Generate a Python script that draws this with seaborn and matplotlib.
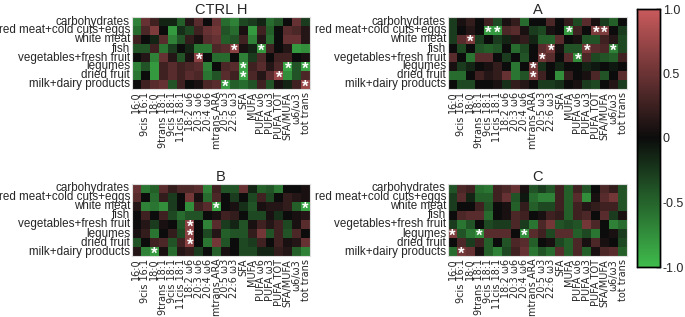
import numpy as np
import pandas as pd
import matplotlib
matplotlib.use("Agg")
import matplotlib.pyplot as plt
import seaborn as sns
from matplotlib.colors import LinearSegmentedColormap

foods = ["carbohydrates", "red meat+cold cuts+eggs", "white meat", "fish",
         "vegetables+fresh fruit", "legumes", "dried fruit", "milk+dairy products"]
fatty_acids = ["16:0", "9cis 16:1", "18:0", "9trans 18:1", "9cis 18:1", "11cis 18:1",
               "18:2 ω6", "20:3 ω6", "20:4 ω6", "mtrans ARA", "20:5 ω3", "22:6 ω3",
               "SFA", "MUFA", "PUFA ω6", "PUFA ω3", "PUFA TOT", "SFA/MUFA", "ω6/ω3", "tot trans"]
panel_titles = ["CTRL H", "A", "B", "C"]

ctrl_h = [
    [-0.67, 0.47, 0.27, -0.13, -0.13, -0.47, 0.13, 0.4, 0.0, 0.47, -0.54, -0.67, -0.34, -0.27, -0.13, -0.54, -0.4, 0.0, 0.47, -0.27],
    [-0.54, 0.34, 0.6, 0.0, -0.8, -0.2, -0.34, 0.27, 0.47, 0.54, -0.4, -0.54, 0.07, -0.8, 0.27, -0.47, 0.0, 0.4, 0.34, 0.13],
    [0.27, 0.0, -0.13, 0.4, -0.67, -0.4, 0.2, 0.07, 0.4, 0.47, -0.47, -0.4, 0.27, -0.67, 0.13, -0.54, 0.0, 0.47, 0.47, 0.13],
    [-0.4, -0.4, 0.27, -0.6, -0.27, 0.0, -0.13, -0.6, -0.6, 0.34, 0.4, 0.67, 0.07, -0.13, -0.8, 0.27, 0.0, 0.13, -0.8, -0.74],
    [0.0, 0.13, -0.67, 0.47, 0.13, -0.4, 0.07, 0.67, 0.0, -0.54, -0.54, 0.0, -0.67, -0.27, 0.34, 0.0, 0.27, 0.27, 0.0, 0.07],
    [-0.67, -0.4, -0.8, 0.27, 0.4, 0.27, 0.34, 0.4, -0.67, 0.0, 0.34, 0.4, -0.86, 0.27, 0.4, 0.13, 0.34, -0.86, -0.4, -0.86],
    [-0.6, 0.0, -0.8, 0.27, 0.4, 0.27, 0.4, 0.34, -0.6, -0.4, 0.4, 0.27, -0.86, 0.34, 0.13, 0.4, 0.74, -0.74, -0.4, 0.34],
    [0.0, 0.27, 0.4, 0.47, -0.4, 0.27, 0.0, 0.07, 0.34, 0.4, -0.8, -0.47, -0.54, -0.4, 0.27, -0.4, 0.07, -0.13, 0.27, 0.74],
]
group_a = [
    [-0.27, 0.07, 0.2, 0.0, 0.27, -0.34, 0.07, 0.2, -0.54, 0.0, 0.0, 0.34, 0.0, 0.2, -0.34, 0.4, 0.07, -0.27, -0.47, 0.0],
    [-0.27, 0.0, 0.13, 0.0, -0.8, -0.8, 0.34, 0.4, 0.07, -0.27, -0.34, 0.07, 0.0, -0.8, 0.27, 0.0, 0.6, 0.6, 0.0, -0.27],
    [-0.27, 0.4, 0.6, -0.27, 0.0, -0.27, -0.13, 0.13, 0.2, -0.13, -0.47, -0.47, 0.4, 0.0, 0.07, -0.4, -0.4, 0.27, 0.13, -0.34],
    [0.0, -0.34, 0.0, -0.4, -0.47, -0.4, 0.0, -0.54, -0.34, 0.0, 0.4, 0.54, 0.07, -0.4, -0.4, 0.54, 0.4, 0.34, -0.67, -0.34],
    [0.4, 0.0, -0.6, 0.4, 0.4, 0.0, -0.27, 0.0, -0.4, 0.0, 0.54, 0.4, 0.0, 0.4, -0.74, 0.34, -0.34, -0.4, -0.47, 0.27],
    [0.07, -0.27, -0.13, 0.0, 0.07, 0.2, 0.0, -0.6, 0.0, 0.54, -0.2, 0.0, -0.13, 0.0, 0.0, -0.13, -0.07, 0.0, -0.07, 0.0],
    [-0.54, -0.54, 0.0, 0.27, 0.13, 0.2, 0.47, -0.6, -0.4, 0.6, 0.27, 0.0, -0.74, 0.2, 0.0, 0.07, 0.34, -0.4, 0.0, 0.4],
    [0.0, -0.34, -0.34, 0.0, 0.0, 0.07, -0.2, 0.2, 0.13, 0.0, -0.27, -0.27, -0.2, 0.0, 0.07, -0.27, -0.34, 0.0, 0.13, -0.27],
]
group_b = [
    [0.47, -0.6, -0.47, 0.4, 0.2, 0.34, 0.34, 0.4, -0.67, 0.27, -0.4, -0.4, 0.47, -0.13, -0.47, -0.4, -0.6, 0.0, 0.0, 0.07],
    [0.4, 0.0, -0.54, 0.2, -0.27, 0.0, 0.54, 0.07, -0.54, 0.34, 0.0, -0.27, 0.0, -0.34, 0.27, -0.34, 0.0, 0.2, 0.13, 0.07],
    [0.13, -0.67, -0.6, -0.74, -0.27, 0.0, -0.74, 0.27, 0.4, -0.86, 0.0, 0.07, -0.2, -0.4, 0.07, 0.13, 0.13, 0.2, -0.47, -0.86],
    [0.0, 0.27, 0.0, 0.27, -0.34, -0.54, -0.4, -0.4, 0.0, 0.07, 0.27, 0.2, 0.0, -0.34, -0.34, 0.07, -0.2, 0.0, 0.07, 0.13],
    [0.0, 0.13, -0.27, 0.07, 0.0, -0.4, 0.67, 0.0, -0.67, 0.4, -0.27, -0.13, -0.4, 0.07, 0.27, 0.13, 0.27, -0.34, 0.07, 0.4],
    [0.07, 0.2, -0.6, 0.0, 0.2, -0.34, 0.67, 0.0, -0.34, 0.13, -0.47, -0.4, -0.4, 0.2, 0.54, -0.4, 0.27, -0.4, 0.34, 0.0],
    [-0.4, 0.0, 0.27, 0.34, -0.4, 0.27, 0.67, 0.0, -0.6, 0.54, -0.4, 0.0, -0.34, -0.27, 0.27, 0.0, 0.27, 0.07, 0.13, 0.47],
    [0.13, -0.67, -0.8, 0.07, -0.54, 0.13, 0.2, -0.27, 0.0, -0.47, 0.07, 0.0, -0.34, -0.34, -0.13, -0.13, 0.2, 0.13, -0.47, -0.67],
]
group_c = [
    [-0.4, 0.34, 0.27, -0.54, -0.6, 0.27, 0.34, 0.47, 0.07, -0.4, -0.27, -0.4, 0.27, -0.47, 0.27, -0.4, 0.0, 0.34, 0.2, -0.4],
    [-0.27, 0.4, -0.13, -0.47, -0.47, 0.27, 0.47, -0.4, -0.07, -0.54, -0.67, -0.67, 0.27, -0.47, 0.4, -0.74, 0.07, 0.4, 0.54, -0.4],
    [-0.27, 0.0, 0.0, 0.27, -0.4, 0.0, 0.07, -0.47, 0.2, -0.47, -0.34, -0.34, 0.27, -0.47, 0.27, 0.13, 0.2, 0.27, 0.27, -0.4],
    [0.0, 0.34, 0.4, 0.4, -0.54, 0.0, 0.07, 0.34, 0.27, 0.0, 0.07, 0.27, 0.2, -0.47, 0.27, 0.34, 0.0, 0.4, -0.27, 0.07],
    [-0.27, -0.6, -0.4, 0.0, -0.34, -0.27, -0.27, 0.34, -0.27, -0.6, 0.34, 0.54, -0.4, -0.34, -0.4, 0.54, 0.34, 0.0, -0.67, -0.54],
    [0.6, -0.4, -0.6, -0.74, 0.4, 0.4, 0.4, 0.0, -0.74, 0.4, 0.27, -0.34, 0.4, 0.4, -0.47, -0.34, -0.6, 0.0, 0.07, -0.27],
    [0.0, 0.34, -0.27, 0.27, -0.47, 0.0, -0.4, 0.34, 0.4, -0.47, 0.0, 0.07, -0.34, -0.47, 0.34, 0.07, 0.34, 0.07, 0.0, -0.34],
    [-0.54, 0.54, 0.47, 0.07, -0.47, -0.67, -0.34, 0.27, 0.47, -0.6, -0.4, -0.54, 0.4, -0.47, 0.34, -0.47, 0.07, 0.34, 0.4, -0.47],
]

# significant cells (row index, column index)
sig_ctrl_h = [(3, 11), (3, 14), (4, 7), (5, 12), (5, 17), (5, 19), (6, 12), (6, 16), (7, 10), (7, 19)]
sig_a = [(1, 4), (1, 5), (1, 13), (1, 16), (1, 17), (2, 2), (3, 11), (3, 15), (3, 18),
         (4, 10), (4, 14), (5, 9), (6, 9)]
sig_b = [(2, 9), (2, 19), (4, 6), (5, 6), (6, 6), (7, 2)]
sig_c = [(5, 0), (5, 3), (5, 8), (7, 1)]

colorbar_ticks = [-1.0, -0.5, 0.0, 0.5, 1.0]
colorbar_ticklabels = ["-1.0", "-0.5", "0", "0.5", "1.0"]

cmap = LinearSegmentedColormap.from_list(
    "gkr", [(0.0, "#3fbb4c"), (0.5, "#0c0c0c"), (1.0, "#c95a5c")])

sns.set_theme(style="white")
plt.rcParams["font.family"] = ["Liberation Sans", "DejaVu Sans"]

W, H = 685, 317
fig = plt.figure(figsize=(W / 100, H / 100), dpi=100)


def fr(x0, y0, x1, y1):
    return [x0 / W, 1 - y1 / H, (x1 - x0) / W, (y1 - y0) / H]


rects = [fr(132, 17, 310, 89), fr(448, 17, 627, 89), fr(132, 184, 310, 256), fr(448, 184, 627, 256)]
cax = fig.add_axes(fr(637, 9, 660, 267))

datasets = [ctrl_h, group_a, group_b, group_c]
sigs = [sig_ctrl_h, sig_a, sig_b, sig_c]

for k, (rect, data, sig, title) in enumerate(zip(rects, datasets, sigs, panel_titles)):
    ax = fig.add_axes(rect)
    df = pd.DataFrame(data, index=foods, columns=fatty_acids)
    sns.heatmap(df, ax=ax, cmap=cmap, vmin=-1, vmax=1, cbar=(k == 0),
                cbar_ax=cax if k == 0 else None, linewidths=0,
                xticklabels=True, yticklabels=True)
    for (r, c) in sig:
        ax.text(c + 0.5, r + 0.85, "*", color="white", ha="center", va="center",
                fontsize=12, fontweight="bold")
    ax.set_title(title, fontsize=10.5, pad=2.5)
    ax.set_xlabel("")
    ax.set_ylabel("")
    ax.tick_params(axis="x", length=0, pad=2)
    ax.tick_params(axis="y", length=0, pad=1.5)
    ax.set_xticklabels(fatty_acids, rotation=90, fontsize=7.0,
                       family=["DejaVu Sans"])
    ax.set_yticklabels(foods, rotation=0, fontsize=8.4)
    for s in ax.spines.values():
        s.set_visible(True)
        s.set_color("#dddddd")
        s.set_linewidth(0.8)

cax.set_yticks(colorbar_ticks)
cax.set_yticklabels(colorbar_ticklabels, fontsize=9)
cax.tick_params(axis="y", direction="in", length=3, width=1, color="black", pad=2)
for s in cax.spines.values():
    s.set_visible(True)
    s.set_color("black")
    s.set_linewidth(1)

fig.savefig("out.png", dpi=100)
